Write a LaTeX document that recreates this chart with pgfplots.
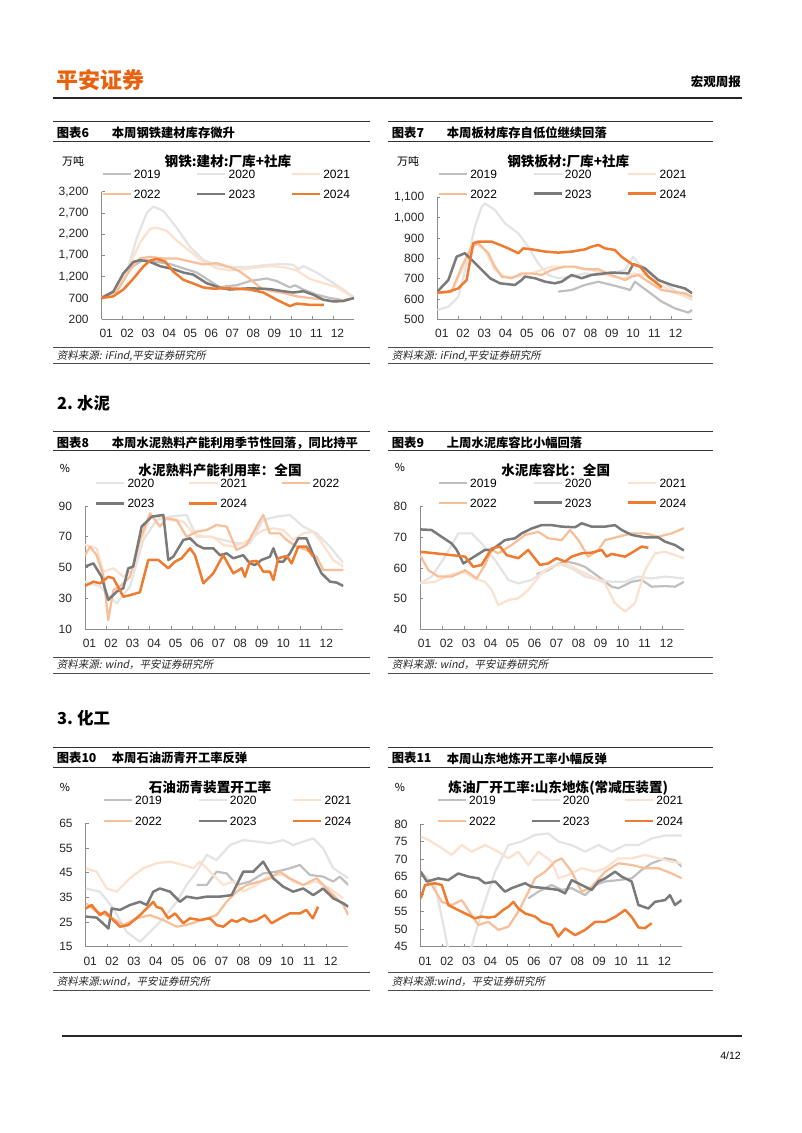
\documentclass[border=0pt]{standalone}
\usepackage{pgfplots}
\pgfplotsset{compat=1.18}
\usepackage{fontspec}
\setmainfont{Liberation Sans}
\newfontfamily\cjk{Noto Sans CJK SC}
\newfontfamily\cjkit{Noto Sans CJK SC}[FakeSlant=0.2]
\definecolor{c19}{HTML}{BFBFBF}
\definecolor{c20}{HTML}{E4E4E4}
\definecolor{c21}{HTML}{FCE1CF}
\definecolor{c22}{HTML}{F7BE98}
\definecolor{c23}{HTML}{7A7A7A}
\definecolor{c24}{HTML}{EE7B30}
\definecolor{logo}{HTML}{E8620E}
\pgfplotsset{
 s19/.style={draw=c19, line width=2.2pt, line join=round},
 s20/.style={draw=c20, line width=2.2pt, line join=round},
 s21/.style={draw=c21, line width=2.2pt, line join=round},
 s22/.style={draw=c22, line width=2.2pt, line join=round},
 s23/.style={draw=c23, line width=2.5pt, line join=round},
 s24/.style={draw=c24, line width=2.5pt, line join=round},
 base/.style={
  scale only axis, anchor=south west,
  xmin=0, xmax=12,
  axis lines=left, axis line style={-, draw=black!45, line width=0.8pt},
  xtick={0,...,11}, xticklabels={01,02,03,04,05,06,07,08,09,10,11,12},
  tick align=inside, major tick length=3pt, tick style={draw=black!45, line width=0.6pt},
  ticklabel style={font=\fontsize{12}{12.5}\selectfont, text=black!85},
  xticklabel style={xshift=4.5pt, yshift=-6.5pt},
  yticklabel style={xshift=-9.5pt},
  scaled y ticks=false,
  /pgf/number format/1000 sep={,},
  /pgf/number format/assume math mode=true,
  legend columns=3,
  legend cell align=left,
  legend style={draw=none, fill=none, anchor=west, inner sep=0pt, outer sep=0pt, row sep=9.2pt,
    font=\fontsize{12}{12.5}\selectfont, nodes={inner sep=1pt, text height=8.8pt, text depth=0pt},
    /tikz/every even column/.append style={column sep=34.5pt},
    /tikz/every odd column/.append style={column sep=1pt}},
  legend image code/.code={\draw[##1] (0pt,0pt) -- (28pt,0pt);},
 }
}
\newcommand\hdr[3]{%
 \node[anchor=west, inner sep=0, font=\cjk\bfseries\fontsize{12.3}{13}\selectfont] at (#1pt,-#2pt) {#3};
}
\begin{document}
\begin{tikzpicture}
\useasboundingbox[fill=white] (0,0) rectangle (802pt,-1133pt);
% page header
\node[anchor=west, inner sep=0, text=logo, font=\cjk\bfseries\fontsize{22}{22}\selectfont] at (56pt,-80pt) {平安证券};
\node[anchor=east, inner sep=0, font=\cjk\bfseries\fontsize{12.5}{13}\selectfont] at (741pt,-82pt) {宏观周报};
\draw[line width=1.2pt, black!85] (53pt,-98pt) -- (742pt,-98pt);
% footer
\draw[line width=1.2pt, black!85] (62pt,-1036pt) -- (742pt,-1036pt);
\node[anchor=east, inner sep=0, font=\fontsize{10.5}{11}\selectfont] at (741pt,-1056pt) {4/12};
% section headings
\node[anchor=west, inner sep=0, font=\cjk\bfseries\fontsize{16.5}{17}\selectfont] at (57pt,-403pt) {2.\hspace{4pt}水泥};
\node[anchor=west, inner sep=0, font=\cjk\bfseries\fontsize{16.5}{17}\selectfont] at (57pt,-718pt) {3.\hspace{4pt}化工};

% ---------- frame lines and headers ----------
\foreach \xa/\xb in {53/370, 388/713}{
 \foreach \ya/\yb/\yc/\yd in {121.7/141.7/347.3/363.3, 431.7/450.7/657.7/673.3, 747.7/767.7/972.7/990}{
  \draw[line width=1.2pt, black!80] (\xa pt,-\ya pt) -- (\xb pt,-\ya pt);
  \draw[line width=1pt, black!80] (\xa pt,-\yb pt) -- (\xb pt,-\yb pt);
  \draw[line width=0.8pt, black!70] (\xa pt,-\yc pt) -- (\xb pt,-\yc pt);
  \draw[line width=0.8pt, black!70] (\xa pt,-\yd pt) -- (\xb pt,-\yd pt);
 }}
\hdr{56.7}{132.7}{图表6} \hdr{111.7}{132.7}{本周钢铁建材库存微升}
\hdr{391.7}{132.7}{图表7} \hdr{446.7}{132.7}{本周板材库存自低位继续回落}
\hdr{56.7}{442.7}{图表8} \hdr{111.7}{442.7}{本周水泥熟料产能利用季节性回落，同比持平}
\hdr{391.7}{442.7}{图表9} \hdr{446.7}{442.7}{上周水泥库容比小幅回落}
\hdr{56.7}{758.3}{图表10} \hdr{111.7}{758.3}{本周石油沥青开工率反弹}
\hdr{391.7}{758.3}{图表11} \hdr{446.7}{758.3}{本周山东地炼开工率小幅反弹}
% sources
\tikzset{src/.style={anchor=west, inner sep=0, font=\cjkit\fontsize{10.5}{11}\selectfont, text=black!85}}
\node[src] at (56.7pt,-355.7pt) {资料来源: iFind,平安证券研究所};
\node[src] at (391.7pt,-355.7pt) {资料来源: iFind,平安证券研究所};
\node[src] at (56.7pt,-665pt) {资料来源: wind，平安证券研究所};
\node[src] at (391.7pt,-665pt) {资料来源: wind，平安证券研究所};
\node[src] at (56.7pt,-981.7pt) {资料来源:wind，平安证券研究所};
\node[src] at (391.7pt,-981.7pt) {资料来源:wind，平安证券研究所};
% units and titles
\tikzset{unit/.style={inner sep=0, font=\cjk\fontsize{11}{12}\selectfont},
 ttl/.style={inner sep=0, font=\cjk\bfseries\fontsize{13.6}{14}\selectfont}}
\node[unit] at (73pt,-161.7pt) {万吨};
\node[ttl] at (228pt,-161.7pt) {钢铁:建材:厂库+社库};
\node[unit] at (408pt,-161.7pt) {万吨};
\node[ttl] at (568.3pt,-161.7pt) {钢铁板材:厂库+社库};
\node[unit] at (65pt,-468.3pt) {\%};
\node[ttl] at (220pt,-470pt) {水泥熟料产能利用率：全国};
\node[unit] at (400pt,-467pt) {\%};
\node[ttl] at (555.7pt,-470.7pt) {水泥库容比：全国};
\node[unit] at (65pt,-787.7pt) {\%};
\node[ttl] at (210pt,-787.7pt) {石油沥青装置开工率};
\node[unit] at (400pt,-787.7pt) {\%};
\node[ttl] at (558.3pt,-787.7pt) {炼油厂开工率:山东地炼(常减压装置)};

% ---------- Chart 6 ----------
\begin{axis}[base, at={(101.7pt,-319.3pt)}, width=252.3pt, height=127.6pt,
 ymin=200, ymax=3200, ytick={200,700,...,3200},
 legend style={at={(axis description cs:0,1.061)}}]
\addplot[s19] coordinates {(0,720)(0.71,900)(1.35,1400)(1.98,1600)(2.61,1550)(3.25,1500)(3.88,1400)(4.52,1300)(5.15,1100)(5.63,950)(5.94,980)(6.42,1000)(7.05,1100)(7.84,1160)(8.32,1100)(8.95,950)(9.19,1000)(9.59,900)(10.22,780)(10.86,700)(11.49,650)};
\addplot[s20] coordinates {(0,720)(0.71,850)(1.19,1300)(1.66,2100)(2.14,2700)(2.46,2850)(2.93,2750)(3.57,2350)(4.20,1900)(4.83,1600)(5.47,1470)(6.10,1420)(7.05,1430)(7.84,1480)(8.64,1500)(9.11,1480)(9.35,1380)(9.59,1450)(10.22,1300)(10.86,1100)(11.49,900)(12,720)};
\addplot[s21] coordinates {(0,720)(0.71,900)(1.35,1500)(1.82,2000)(2.30,2330)(2.61,2350)(3.09,2280)(3.57,2050)(4.20,1800)(4.83,1550)(5.47,1400)(6.10,1350)(6.74,1380)(7.37,1420)(8.00,1450)(8.64,1430)(9.27,1350)(9.90,1150)(10.54,1050)(11.17,960)(12,700)};
\addplot[s22] coordinates {(0,730)(0.71,850)(1.35,1360)(1.82,1630)(2.30,1670)(2.93,1630)(3.57,1630)(4.20,1560)(4.83,1490)(5.47,1520)(6.10,1430)(6.58,1320)(7.05,1150)(7.53,950)(8.00,870)(8.64,820)(9.27,740)(9.90,700)(10.54,660)(11.17,620)(12,700)};
\addplot[s23] coordinates {(0,700)(0.55,850)(1.03,1280)(1.51,1550)(1.82,1590)(2.30,1550)(2.77,1450)(3.41,1380)(3.88,1300)(4.36,1250)(4.99,1050)(5.63,940)(6.10,900)(7.05,930)(8.00,910)(8.64,860)(9.11,830)(9.59,860)(10.06,780)(10.54,660)(11.01,620)(11.49,630)(12,700)};
\addplot[s24] coordinates {(0,700)(0.55,740)(1.03,900)(1.51,1160)(1.98,1440)(2.30,1580)(2.61,1620)(3.01,1560)(3.41,1320)(3.88,1130)(4.36,1040)(4.83,950)(5.31,920)(5.78,930)(6.42,920)(7.05,900)(7.69,830)(8.32,660)(8.95,510)(9.27,570)(9.90,540)(10.57,540)};
\legend{2019,2020,2021,2022,2023,2024}
\end{axis}

% ---------- Chart 7 ----------
\begin{axis}[base, at={(437.3pt,-319.3pt)}, width=255pt, height=122pt,
 ymin=500, ymax=1100, ytick={500,600,...,1100},
 legend style={at={(axis description cs:0.003,1.112)}}]
\addplot[s19] coordinates {(5.69,636)(6.32,644)(6.95,669)(7.58,685)(8.20,669)(8.83,652)(9.07,644)(9.30,685)(9.93,636)(10.56,587)(11.18,554)(11.81,533)(12,546)};
\addplot[s20] coordinates {(0,546)(0.52,562)(0.99,611)(1.46,808)(1.77,956)(2.09,1054)(2.24,1070)(2.71,1038)(3.18,972)(3.81,923)(4.28,857)(4.75,775)(5.22,718)(5.69,702)(6.32,710)(6.95,726)(7.58,718)(8.20,726)(8.83,743)(9.22,808)(9.46,775)(10.09,718)(10.71,677)(11.34,628)(12,595)};
\addplot[s21] coordinates {(0,628)(0.67,636)(1.30,775)(1.77,874)(2.24,841)(2.71,743)(3.18,710)(3.81,710)(4.44,726)(5.38,759)(6.32,759)(7.26,743)(8.20,710)(8.83,702)(9.22,726)(9.77,718)(10.40,677)(11.03,636)(12,603)};
\addplot[s22] coordinates {(0,628)(0.67,636)(1.15,759)(1.62,857)(1.93,874)(2.40,825)(2.71,759)(3.03,710)(3.50,702)(3.97,726)(4.44,726)(4.91,718)(5.38,743)(6.01,759)(6.48,759)(6.95,746)(7.58,746)(8.20,718)(8.83,693)(9.15,710)(9.46,718)(9.93,685)(10.56,644)(11.03,636)(11.65,628)(12,611)};
\addplot[s23] coordinates {(0,636)(0.52,693)(0.91,808)(1.30,825)(1.62,792)(2.09,743)(2.48,702)(2.95,677)(3.65,669)(3.97,693)(4.13,710)(4.60,702)(5.07,685)(5.54,677)(5.85,685)(6.32,718)(6.79,702)(7.26,718)(8.20,730)(8.99,726)(9.22,772)(9.77,751)(10.40,693)(11.03,669)(11.65,652)(12,628)};
\addplot[s24] coordinates {(0,631)(0.52,636)(0.99,652)(1.38,693)(1.69,874)(1.93,882)(2.56,882)(2.95,866)(3.34,849)(3.81,825)(4.05,849)(4.44,844)(5.07,833)(5.69,828)(6.32,833)(6.95,844)(7.26,857)(7.58,866)(7.89,849)(8.36,841)(8.67,808)(9.15,772)(9.54,759)(9.93,710)(10.24,685)(10.56,657)};
\legend{2019,2020,2021,2022,2023,2024}
\end{axis}

% ---------- Chart 8 ----------
\begin{axis}[base, at={(85pt,-629pt)}, width=258.3pt, height=123pt,
 ymin=10, ymax=90, ytick={10,30,...,90},
 legend style={at={(axis description cs:0.039,1.103)}, /tikz/every even column/.append style={column sep=32.5pt}}]
\addplot[s20] coordinates {(0,40.8)(0.70,37.6)(1.47,26.7)(2.09,37.6)(2.71,67.9)(3.33,80.9)(3.95,83.1)(4.72,84.2)(5.19,70)(5.80,70)(6.42,67.9)(7.04,65.8)(7.66,65.8)(8.28,80.9)(8.90,83.1)(9.52,84.2)(10.14,76.6)(10.76,72.2)(11.38,63.6)(12,53)};
\addplot[s21] coordinates {(0,64.7)(0.54,62.5)(0.85,47.3)(1.32,49.5)(1.78,44)(2.24,48.4)(2.63,67.9)(3.02,82)(3.48,83.1)(3.95,80.9)(4.57,79.8)(5.03,72.2)(5.50,70)(5.96,70)(6.42,64.7)(6.89,63.6)(7.35,65.8)(7.82,70)(8.28,74.4)(8.75,75.5)(9.21,74.4)(9.68,67.9)(10.14,72.2)(10.60,73.3)(11.07,64.7)(11.53,54.9)(12,50.6)};
\addplot[s22] coordinates {(0,58)(0.23,63.6)(0.54,58)(0.85,45)(1.08,15.9)(1.32,35.4)(1.63,37.6)(2.09,44)(2.55,67.9)(3.02,85.3)(3.48,76.6)(3.79,82)(4.26,80.9)(4.72,70)(5.19,73.3)(5.65,74.4)(6.11,77.7)(6.58,76.6)(7.04,61.4)(7.51,64.7)(7.97,76.6)(8.28,84.2)(8.59,72.2)(9.06,72.2)(9.37,67.9)(9.83,63.6)(10.29,61.4)(10.76,57)(11.07,48.4)(12,48.4)};
\addplot[s23] coordinates {(0,50.6)(0.39,52.7)(0.77,44)(1.08,28.9)(1.47,34.3)(1.78,36.5)(2.01,49.5)(2.24,50.6)(2.63,76.6)(3.10,83.1)(3.64,84.2)(3.87,54.9)(4.10,57)(4.57,67.9)(4.88,69)(5.19,64.7)(5.50,62.5)(5.96,62.5)(6.27,58)(6.58,59.2)(6.89,56)(7.35,58)(7.66,52.7)(7.89,51.6)(8.20,54.9)(8.59,57)(8.75,62.5)(8.98,53.8)(9.21,53.8)(9.52,59.2)(9.91,69)(10.29,69)(10.76,52.7)(10.99,46.2)(11.38,40.8)(11.69,40.2)(12,38)};
\addplot[s24] coordinates {(0,38)(0.39,40.8)(0.70,39.7)(1.08,44)(1.32,43)(1.78,31)(2.09,32)(2.55,33.9)(2.94,54.9)(3.41,54.9)(3.87,49.5)(4.18,53.8)(4.49,56)(4.88,62.5)(5.11,58)(5.50,39.7)(5.96,46.2)(6.42,58)(6.89,46.2)(7.28,49.5)(7.43,44)(7.66,53.8)(7.97,54.3)(8.28,47.3)(8.59,47.3)(8.75,41.9)(8.98,56)(9.37,57.5)(9.60,52.7)(9.91,63.6)(10.29,63.6)(10.60,57)};
\legend{2020,2021,2022,2023,2024}
\end{axis}

% ---------- Chart 9 ----------
\begin{axis}[base, at={(420pt,-629.3pt)}, width=264pt, height=122.6pt,
 ymin=40, ymax=80, ytick={40,50,...,80},
 legend style={at={(axis description cs:0.068,1.114)}}]
\addplot[s19] coordinates {(5.30,58)(5.83,59.3)(6.29,61.5)(6.67,62.1)(7.05,61.5)(7.50,60.4)(8.11,57.2)(8.71,53.9)(9.02,53.4)(9.62,55.5)(10.08,56.1)(10.53,53.9)(11.14,54.1)(11.59,53.9)(12,55.5)};
\addplot[s20] coordinates {(0,55)(0.53,57.2)(1.14,63.7)(1.74,71.3)(2.35,71.3)(2.80,68)(3.41,62.6)(4.02,56.1)(4.47,55)(5.08,56.1)(5.68,59.3)(6.29,61.5)(6.89,59.9)(7.50,57.2)(8.11,56.1)(8.71,55.5)(9.32,55.5)(9.92,57.2)(10.53,56.6)(11.14,57.2)(12,56.6)};
\addplot[s21] coordinates {(0,55)(0.68,55.5)(1.44,58)(2.05,58.5)(2.50,56.5)(2.95,55.5)(3.26,52.8)(3.56,47.9)(4.02,49.6)(4.47,50.1)(4.92,52.8)(5.53,58.3)(5.98,60.4)(6.59,61.5)(7.20,59.3)(7.80,57.2)(8.41,55)(8.86,48.5)(9.32,45.8)(9.77,48.5)(10.23,59.3)(10.68,64.8)(11.14,65.3)(11.59,64.2)(12,63.2)};
\addplot[s22] coordinates {(0,64.2)(0.38,59.3)(0.83,57.2)(1.44,57.2)(2.05,59.3)(2.58,56.6)(2.95,61)(3.26,65.9)(3.56,64.8)(4.17,67.5)(4.77,70.8)(5.38,71.8)(5.83,69.7)(6.44,69.1)(6.82,72.4)(7.20,69.1)(7.65,63.7)(8.11,65.9)(8.41,69.1)(9.02,70.2)(9.62,71.3)(10.23,71.3)(10.83,70.2)(11.44,71.3)(12,73)};
\addplot[s23] coordinates {(0,72.6)(0.53,72.4)(0.98,70.2)(1.44,68)(1.67,65.9)(1.97,61.5)(2.35,63.2)(2.95,65.9)(3.26,65.9)(3.86,69.1)(4.32,69.7)(4.62,71.3)(5.08,72.9)(5.53,74)(5.98,74)(6.44,73.5)(7.05,73.3)(7.35,74.6)(7.80,73.5)(8.41,73.5)(8.86,74)(9.17,72.4)(9.62,70.8)(10.23,70)(10.83,70)(11.14,68.6)(11.59,67.5)(12,65.7)};
\addplot[s24] coordinates {(0,65.3)(0.68,64.8)(1.44,64.2)(2.05,63.7)(2.42,60.4)(2.80,61)(3.26,66.4)(3.64,67)(3.94,64.2)(4.47,63.2)(4.92,65.9)(5.45,61)(5.83,61.5)(6.21,63.2)(6.59,62.1)(6.89,63.7)(7.35,64.8)(7.80,65)(8.26,65.9)(8.48,63.7)(8.71,64.6)(9.32,63.7)(9.70,65.3)(10.08,67)(10.38,66.6)};
\legend{2019,2020,2021,2022,2023,2024}
\end{axis}

% ---------- Chart 10 ----------
\begin{axis}[base, at={(85.7pt,-946.7pt)}, width=262.6pt, height=123.4pt,
 ymin=15, ymax=65, ytick={15,25,...,65},
 legend style={at={(axis description cs:0.066,1.104)}, row sep=10.2pt}]
\addplot[s19] coordinates {(5.07,40)(5.53,40)(5.98,45.4)(6.44,44.7)(6.90,40)(7.50,41.4)(8.11,44.7)(8.72,45.4)(9.33,46.8)(9.79,48.1)(10.24,44.1)(10.85,43.4)(11.31,41.4)(11.61,43.4)(12,40)};
\addplot[s20] coordinates {(0,38.6)(0.65,37.3)(1.26,30.5)(1.87,21)(2.48,17)(2.94,21)(3.55,26.5)(4.16,33.2)(4.61,40)(5.07,45.4)(5.53,52.2)(5.98,50.1)(6.59,56.2)(7.20,58.2)(7.81,57.6)(8.42,56.9)(9.03,58.2)(9.48,56.2)(9.94,57.6)(10.40,58.9)(10.85,54.9)(11.31,46.8)(11.77,44.1)(12,42.7)};
\addplot[s21] coordinates {(0,46.8)(0.50,45.4)(0.96,38.6)(1.42,37.3)(2.02,42.7)(2.63,46.8)(3.24,48.8)(3.85,49.5)(4.46,48.1)(4.92,46.8)(5.22,49.5)(5.68,45.4)(6.29,40)(6.74,41.4)(7.20,37.3)(7.81,40)(8.42,44.1)(9.03,44.1)(9.48,41.4)(9.94,40)(10.55,41.4)(11.16,38.6)(11.77,34.6)};
\addplot[s22] coordinates {(0,32.6)(0.50,29.2)(1.11,27.2)(1.72,23.8)(2.33,26.5)(2.94,27.8)(3.55,25.8)(4.16,23.1)(4.61,23.8)(5.07,25.1)(5.53,26.5)(5.98,27.8)(6.44,33.2)(6.90,37.3)(7.35,40)(7.96,41.4)(8.42,42.7)(8.87,45.4)(9.33,42.7)(9.94,40)(10.55,42.7)(11.16,37.3)(11.77,31.9)(12,27.8)};
\addplot[s23] coordinates {(0,27.2)(0.50,26.8)(1.04,22.4)(1.19,30.5)(1.57,29.9)(2.02,31.9)(2.48,33.2)(2.79,31.9)(3.09,37.3)(3.39,38.6)(3.85,37.3)(4.31,33.2)(4.61,35.3)(5.07,34.6)(5.53,35.3)(6.13,35.3)(6.67,35.9)(7.20,45.4)(7.66,45.4)(8.11,49.5)(8.57,42.7)(9.03,39.3)(9.48,37.3)(9.94,38.6)(10.40,35.9)(10.85,38.6)(11.31,34.6)(11.77,32.6)(12,31.2)};
\addplot[s24] coordinates {(0,30.5)(0.27,31.9)(0.65,27.8)(0.88,29.2)(1.26,25.8)(1.57,23.1)(1.95,23.8)(2.48,27.8)(2.79,30.5)(2.94,31.9)(3.09,33.2)(3.24,31.1)(3.47,30.5)(3.77,26.5)(4.08,28.5)(4.46,24.5)(4.76,26.5)(5.22,25.8)(5.68,26.5)(5.98,23.8)(6.29,23.1)(6.67,25.8)(6.90,25.1)(7.20,26.5)(7.50,25.1)(7.81,25.8)(8.19,27.8)(8.49,24.5)(9.03,27.2)(9.33,28.5)(9.79,28.5)(10.08,29.9)(10.38,26.5)(10.62,31.2)};
\legend{2019,2020,2021,2022,2023,2024}
\end{axis}

% ---------- Chart 11 ----------
\begin{axis}[base, at={(420.7pt,-946.7pt)}, width=261pt, height=122.7pt,
 ymin=45, ymax=80, ytick={45,50,...,80},
 legend style={at={(axis description cs:0.062,1.11)}, row sep=10.2pt, /tikz/every even column/.append style={column sep=33.5pt}}]
\addplot[s19] coordinates {(4.95,58.8)(5.41,60.7)(6.02,62.6)(6.48,61.2)(6.94,61.7)(7.56,59.7)(8.02,62.6)(8.48,63.6)(9.09,64)(9.70,64.5)(10.16,66.9)(10.62,68.8)(11.23,70.2)(11.69,69.7)(12,67.8)};
\addplot[s20] coordinates {(0,66.4)(0.66,62.6)(1.04,51.2)(1.27,44)(1.50,40)(1.89,40)(2.34,45)(2.80,55)(3.42,66.4)(4.03,74)(4.64,75)(5.26,76.9)(5.87,77.3)(6.33,75)(6.94,74)(7.56,72.1)(8.17,74)(8.78,72.1)(9.40,74)(10.01,74)(10.62,75.9)(11.23,76.7)(12,76.7)};
\addplot[s21] coordinates {(0,76.4)(0.35,75.5)(0.97,73.1)(1.43,71.2)(1.89,74)(2.34,72.1)(2.96,74)(3.57,72.1)(4.03,70.2)(4.49,72.1)(4.95,68.3)(5.41,72.1)(6.02,69.3)(6.33,64.5)(6.79,65.5)(7.40,67.4)(8.02,66.4)(8.48,67.4)(9.09,70.2)(9.70,70.2)(10.31,71.2)(10.93,70.2)(11.54,69.3)(12,68.8)};
\addplot[s22] coordinates {(0,65.9)(0.51,62.6)(0.97,57.8)(1.43,56.9)(1.89,58.3)(2.34,54)(2.65,51.2)(3.11,52.1)(3.57,49.8)(4.03,50.7)(4.49,55)(4.80,58.8)(5.26,64.5)(5.72,66.4)(6.18,69.3)(6.48,70.2)(6.94,66.4)(7.40,60.7)(7.86,62.1)(8.48,66.4)(9.09,68.8)(9.70,68.3)(10.31,67.4)(10.93,67.4)(11.54,65.9)(12,64.5)};
\addplot[s23] coordinates {(0,66.4)(0.28,63.6)(0.81,64.5)(1.27,64)(1.73,65.9)(2.19,65)(2.65,64.5)(2.96,63.1)(3.42,63.6)(3.88,60.7)(4.18,61.7)(4.80,63.1)(5.10,62.1)(5.72,61.7)(6.33,61.2)(6.64,60.2)(6.94,64)(7.40,62.6)(7.86,61.2)(8.17,63.6)(8.48,64.5)(8.94,66.4)(9.24,65)(9.70,63.6)(10.01,56.9)(10.47,55.9)(10.77,57.8)(11.23,58.3)(11.46,59.7)(11.69,56.9)(12,58.3)};
\addplot[s24] coordinates {(0,58.8)(0.20,62.6)(0.66,63.1)(0.97,62.6)(1.27,56.9)(1.58,55.9)(2.04,54.5)(2.50,53.1)(2.80,53.6)(3.11,53.3)(3.42,53.6)(3.80,55.5)(4.03,56.4)(4.26,57.8)(4.49,55.9)(4.80,54.5)(5.26,53.6)(5.56,52.1)(6.02,51.2)(6.33,47.9)(6.64,50.2)(7.10,48.3)(7.56,49.8)(8.02,52.1)(8.48,52.1)(8.94,53.5)(9.40,55.5)(9.70,53.5)(10.01,50.5)(10.31,50.3)(10.62,51.7)};
\legend{2019,2020,2021,2022,2023,2024}
\end{axis}
\end{tikzpicture}
\end{document}
